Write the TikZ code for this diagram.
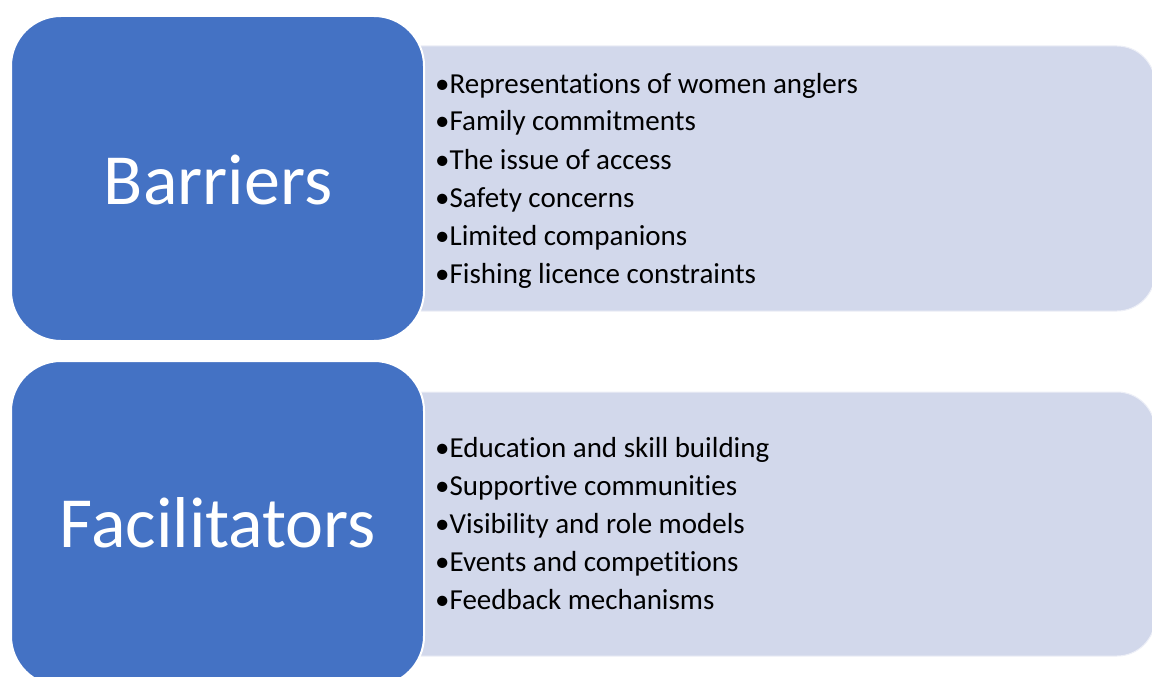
\documentclass[tikz,border=0pt]{standalone}
\usepackage{fontspec}
\setmainfont{Carlito}[Ligatures={NoCommon}]
\definecolor{darkblue}{RGB}{68,114,196}
\definecolor{lightblue}{RGB}{210,216,235}
\begin{document}
\begin{tikzpicture}[x=1pt,y=-1pt,
  headbox/.style={fill=darkblue,draw=white,line width=2pt,rounded corners=50pt},
  listbox/.style={fill=lightblue,draw=white!60!lightblue,line width=1pt,rounded corners=38pt},
  headtext/.style={text=white,font=\fontsize{72}{86}\selectfont,inner sep=0pt},
  item/.style={anchor=base west,inner sep=0pt,font=\fontsize{29}{36}\selectfont,text=black}]
\useasboundingbox (0,0) rectangle (1152,677);
\clip (0,0) rectangle (1152,677);
\fill[white] (0,0) rectangle (1152,677);
% list boxes (left side hidden under the header boxes)
\draw[listbox] (300,46) rectangle (1155,311);
\draw[listbox] (300,392) rectangle (1155,656);
% header boxes
\draw[headbox] (11,16) rectangle (424,341);
\draw[headbox] (11,361) rectangle (424,686);
\node[headtext] (barriers) at (218,180) {Barriers};
\node[headtext] (facil) at (218,523) {Facilitators};
% items
\node[item] (b1) at (435,93) {•Representations of women anglers};
\node[item] (b2) at (435,131) {•Family commitments};
\node[item] (b3) at (435,169) {•The issue of access};
\node[item] (b4) at (435,207) {•Safety concerns};
\node[item] (b5) at (435,245) {•Limited companions};
\node[item] (b6) at (435,283) {•Fishing licence constraints};
\node[item] (f1) at (435,457) {•Education and skill building};
\node[item] (f2) at (435,495) {•Supportive communities};
\node[item] (f3) at (435,533) {•Visibility and role models};
\node[item] (f4) at (435,571) {•Events and competitions};
\node[item] (f5) at (435,609) {•Feedback mechanisms};
\end{tikzpicture}
\end{document}
